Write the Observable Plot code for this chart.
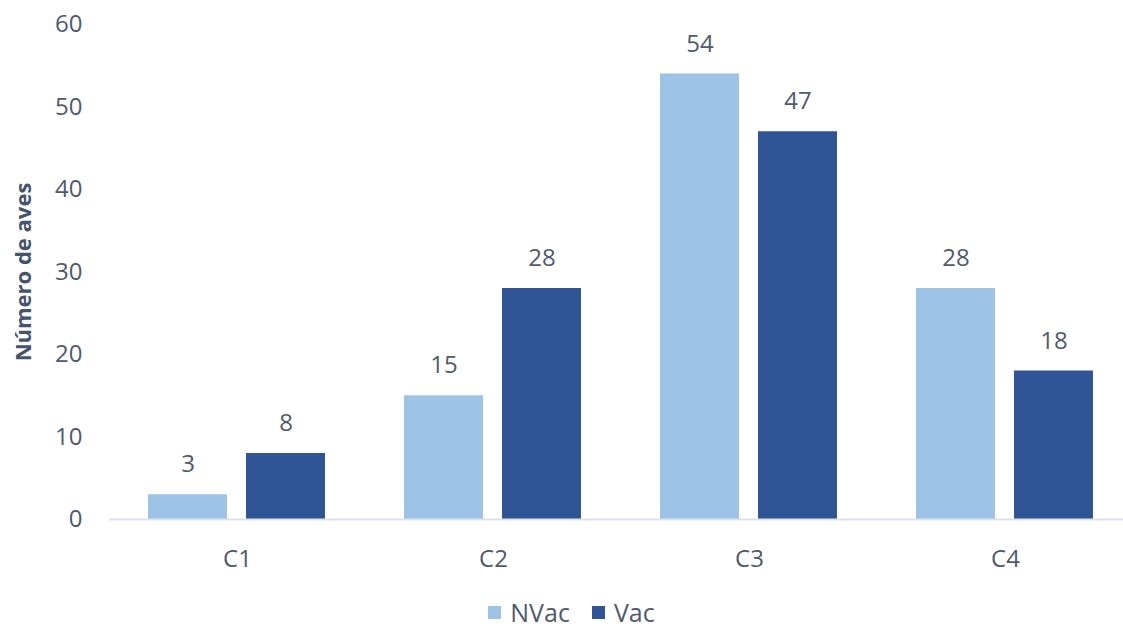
<!DOCTYPE html>
<html>
<head>
<meta charset="utf-8">
<script src="https://cdn.jsdelivr.net/npm/d3@7"></script>
<script src="https://cdn.jsdelivr.net/npm/@observablehq/plot@0.6"></script>
<style>
  html, body { margin: 0; padding: 0; background: #fff; }
  #chart { width: 1123px; overflow: hidden; font-family: "Open Sans", sans-serif; }
  .legend { display: flex; justify-content: center; align-items: center; gap: 22px; height: 34px; font-size: 25px; color: #505a6b; padding-left: 20px; }
  .legend span.sw { display: inline-block; width: 13px; height: 13px; margin-right: 9px; }
  .legend .item { display: flex; align-items: center; }
</style>
</head>
<body>
<div id="chart"></div>
<script>
const categories = ["C1", "C2", "C3", "C4"];
const series = ["NVac", "Vac"];
const nvacValues = [3, 15, 54, 28];
const vacValues = [8, 28, 47, 18];
const yTicks = [0, 10, 20, 30, 40, 50, 60];
const colors = ["#9dc3e6", "#2f5597"];

const data = [];
categories.forEach((c, i) => {
  data.push({cat: c, serie: "NVac", value: nvacValues[i]});
  data.push({cat: c, serie: "Vac", value: vacValues[i]});
});

const textColor = "#505a6b";

const plot = Plot.plot({
  width: 1123,
  height: 595,
  marginLeft: 109,
  marginRight: 0,
  marginTop: 24,
  marginBottom: 76,
  style: {fontFamily: "Open Sans, sans-serif", fontSize: "24px", color: textColor, background: "#fff"},
  fx: {domain: categories, range: [109, 1133], padding: 0, label: null},
  x: {domain: series, paddingInner: 0.192, paddingOuter: 0.389, axis: null},
  y: {domain: [0, 60], ticks: yTicks},
  color: {domain: series, range: colors},
  marks: [
    Plot.axisY({ticks: yTicks, tickSize: 0, tickPadding: 27, label: "Número de aves", labelAnchor: "center", labelOffset: 94, labelArrow: "none", fontSize: 24, fill: textColor}),
    Plot.axisFx({anchor: "bottom", tickSize: 0, tickPadding: 30, label: null, fontSize: 24, fill: textColor}),
    Plot.barY(data, {fx: "cat", x: "serie", y: "value", fill: "serie"}),
    Plot.ruleY([0], {stroke: "#dde1e8", strokeWidth: 2}),
    Plot.text(data, {fx: "cat", x: "serie", y: "value", text: d => String(d.value), dy: -30, fontSize: 24, fill: textColor})
  ]
});

d3.select(plot).selectAll('g[aria-label="y-axis label"] text')
  .attr("font-weight", "bold").attr("font-size", 22).attr("fill", "#44546a");

document.getElementById("chart").appendChild(plot);

const legend = document.createElement("div");
legend.className = "legend";
series.forEach((s, i) => {
  const item = document.createElement("div");
  item.className = "item";
  const sw = document.createElement("span");
  sw.className = "sw";
  sw.style.background = colors[i];
  item.appendChild(sw);
  item.appendChild(document.createTextNode(s));
  legend.appendChild(item);
});
document.getElementById("chart").appendChild(legend);
</script>
</body>
</html>
